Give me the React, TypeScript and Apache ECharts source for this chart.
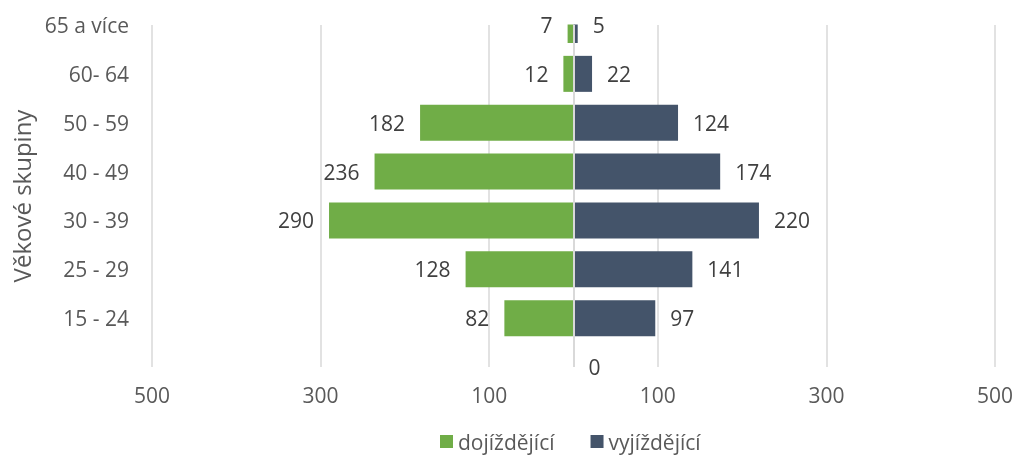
import React, { useEffect, useRef } from "react";
import * as echarts from "echarts";

const categories = ["", "15 - 24", "25 - 29", "30 - 39", "40 - 49", "50 - 59", "60- 64", "65 a více"];
const dojizdejici: (number | null)[] = [null, 82, 128, 290, 236, 182, 12, 7];
const vyjizdejici: number[] = [0, 97, 141, 220, 174, 124, 22, 5];
const xTicks = { min: -500, max: 500, interval: 200 };

const FONT = "'Open Sans', 'Noto Sans', sans-serif";
const TEXT = "#595959";

export default function App() {
  const ref = useRef<HTMLDivElement>(null);
  useEffect(() => {
    if (!ref.current) return;
    const chart = echarts.init(ref.current, undefined, { renderer: "svg" });
    chart.setOption({
      animation: false,
      textStyle: { fontFamily: FONT },
      grid: { left: 152, right: 22, top: 25, bottom: 91 },
      legend: {
        left: 435,
        top: 426,
        itemWidth: 13,
        itemHeight: 13,
        itemGap: 36,
        icon: "rect",
        textStyle: { color: TEXT, fontSize: 21, fontFamily: FONT },
        data: ["dojíždějící", "vyjíždějící"],
      },
      xAxis: {
        type: "value",
        min: xTicks.min,
        max: xTicks.max,
        interval: xTicks.interval,
        axisLine: { show: false },
        axisTick: { show: false },
        splitLine: { show: true, lineStyle: { color: "#d9d9d9", width: 1.5 } },
        axisLabel: {
          color: TEXT,
          fontSize: 21,
          margin: 17,
          fontFamily: FONT,
          formatter: (v: number) => String(Math.abs(v)),
        },
      },
      yAxis: {
        type: "category",
        data: categories,
        boundaryGap: false,
        axisLine: { show: false },
        axisTick: { show: false },
        splitLine: { show: false },
        axisLabel: { color: TEXT, fontSize: 21, margin: 23, fontFamily: FONT, interval: 0 },
        name: "Věkové skupiny",
        nameLocation: "middle",
        nameRotate: 90,
        nameGap: 112,
        nameTextStyle: { color: TEXT, fontSize: 24, fontFamily: FONT },
      },
      series: [
        {
          name: "dojíždějící",
          type: "bar",
          barWidth: 36,
          barGap: "-100%",
          itemStyle: { color: "#70AD47" },
          data: dojizdejici.map((v) => (v == null ? null : -v)),
          label: {
            show: true,
            position: "left",
            distance: 15,
            color: "#404040",
            fontSize: 21,
            fontFamily: FONT,
            formatter: (p: any) => String(Math.abs(p.value)),
          },
        },
        {
          name: "vyjíždějící",
          type: "bar",
          barWidth: 36,
          barGap: "-100%",
          itemStyle: { color: "#44546A" },
          data: vyjizdejici,
          label: {
            show: true,
            position: "right",
            distance: 15,
            color: "#404040",
            fontSize: 21,
            fontFamily: FONT,
            formatter: (p: any) => String(Math.abs(p.value)),
          },
          markLine: {
            silent: true,
            symbol: ["none", "none"],
            label: { show: false },
            lineStyle: { color: "#d9d9d9", width: 2, type: "solid" },
            data: [{ xAxis: 0 }],
          },
        },
      ],
    });
    // Clip the top (half-visible) category's bars at the plot area's top edge, as the original does.
    const topIdx = categories.length - 1;
    const left = chart.convertToPixel({ gridIndex: 0 }, [-15, topIdx]) as number[];
    const right = chart.convertToPixel({ gridIndex: 0 }, [15, topIdx]) as number[];
    chart.setOption({
      graphic: [
        {
          type: "rect",
          z: 10,
          silent: true,
          shape: { x: left[0], y: 0, width: right[0] - left[0], height: left[1] - 0.5 },
          style: { fill: "#ffffff" },
        },
      ],
    });
    return () => chart.dispose();
  }, []);
  return <div ref={ref} style={{ position: "fixed", left: 0, top: 0, width: 1017, height: 458 }} />;
}
